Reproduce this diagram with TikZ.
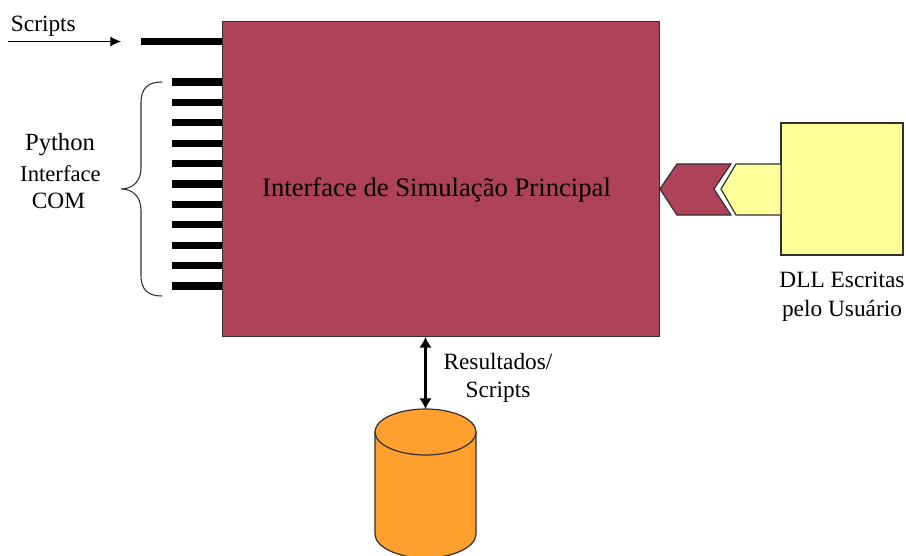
\documentclass[tikz,border=0pt]{standalone}
\usepackage{fontspec}
\setmainfont{Liberation Serif}
\usetikzlibrary{positioning,arrows.meta}

\definecolor{simred}{HTML}{AD4259}
\definecolor{dllyellow}{HTML}{FFFF99}
\definecolor{dborange}{HTML}{FFA02E}
\definecolor{edgegray}{HTML}{303030}

\tikzset{
  block/.style={draw=edgegray, line width=0.9pt, inner sep=0pt},
  pin/.style={line width=5.4pt},
  lbl/.style={font=\fontsize{17.5}{21.5}\selectfont, align=center, inner sep=0pt}
}

\begin{document}
\begin{tikzpicture}[x=0.75pt, y=-0.75pt]
\useasboundingbox (0,0) rectangle (906,556);

\node [block, fill=simred, minimum width=327.5pt, minimum height=236pt] (main) at (441,179) {};
\node [lbl, font=\fontsize{20}{24}\selectfont] (mainlabel) at (436.5,190) {Interface de Simulação Principal};
\node [block, fill=dllyellow, minimum width=91.5pt, minimum height=99pt] (dll) at (842,189) {};
\node [lbl, below=12.5pt of dll] (dlllabel) {DLL Escritas\\pelo Usuário};

% chevrons between main and dll
\draw [block, fill=simred] (main.east |- dll.west) -- ++(17,-25) -- ++(54,0) -- ++(-17,25) -- ++(17,26) -- ++(-54,0) -- cycle;
\draw [block, fill=dllyellow] (721,189) -- (736,164) -- (781,164) -- (781,215) -- (736,215) -- cycle;

% top pin + arrow
\coordinate (scriptsin) at (8,41.5);
\coordinate (scriptsend) at (121,41.5);
\coordinate (toppin) at (141,41.5);
\draw [-{Latex[length=8pt,width=7.5pt]}, line width=0.9pt] (scriptsin) -- (scriptsend);
\draw [pin] (toppin) -- (toppin -| main.west);
\node [lbl, above right=3.5pt and 2pt of scriptsin] (scriptslabel) {Scripts};

% python pins
\foreach \i in {0,...,10} {
  \coordinate (pin\i) at (172,82+20.4*\i);
  \draw [pin] (pin\i) -- (pin\i -| main.west);
}
\draw [line width=0.8pt, edgegray] (162,82) .. controls (148,82) and (141,88) .. (141,103) -- (141,168)
  .. controls (141,181) and (133,189) .. (121,189) .. controls (133,189) and (141,197) .. (141,210)
  -- (141,275) .. controls (141,290) and (148,296) .. (162,296);
\node [lbl, font=\fontsize{18.5}{22}\selectfont] (python) at (60,145) {Python};
\node [lbl, font=\fontsize{17}{20}\selectfont] (iface) at (60.5,174) {Interface};
\node [lbl] (com) at (58.5,201) {COM};

% database
\coordinate (dbtop) at (425.5,409);
\draw [block, fill=dborange] (375,432) -- (375,534) .. controls (375,547) and (398,558) .. (425.5,558)
  .. controls (453,558) and (476,547) .. (476,534) -- (476,432) -- cycle;
\draw [block, fill=dborange] (425.5,432) ellipse [x radius=50.5, y radius=23];
\draw [{Latex[length=8pt,width=9.5pt]}-{Latex[length=8pt,width=9.5pt]}, line width=2.6pt] (dbtop |- main.south) -- (dbtop);
\node [lbl] (reslabel) at (498,378) {Resultados/\\Scripts};
\end{tikzpicture}
\end{document}
